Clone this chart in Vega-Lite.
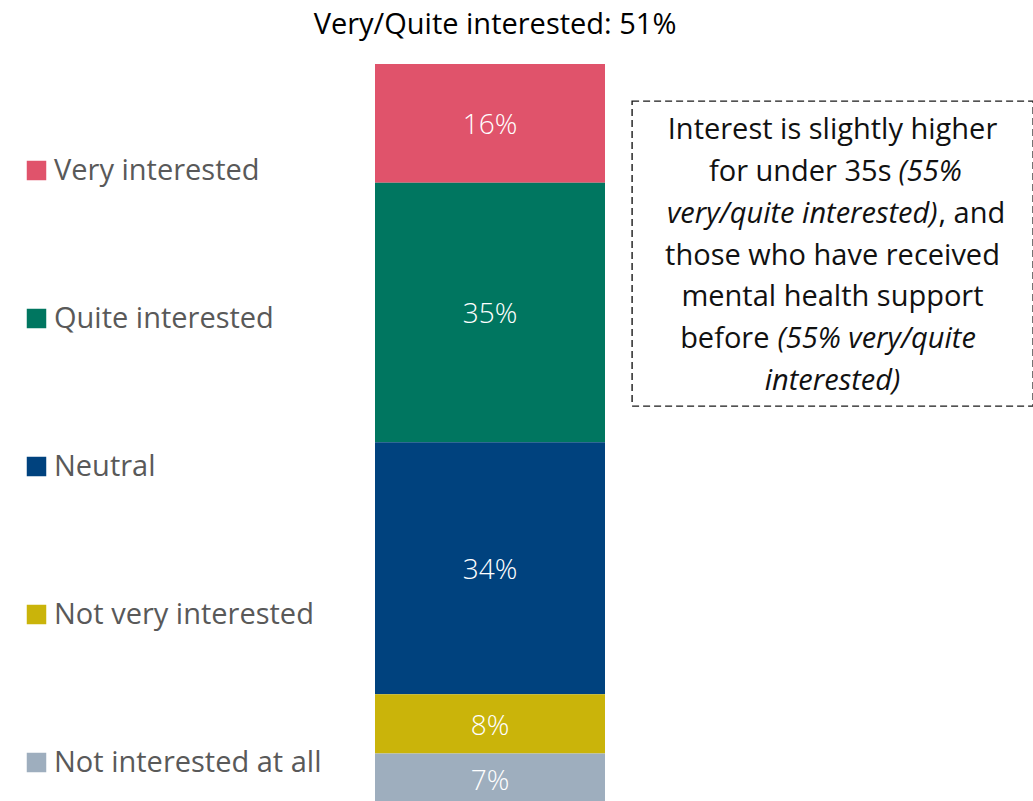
{
  "$schema": "https://vega.github.io/schema/vega-lite/v6.json",
  "background": "white",
  "padding": {"left": 22, "top": 11, "right": 0, "bottom": 0},
  "title": {"text": "Very/Quite interested: 51%", "anchor": "middle", "frame": "group", "dx": 120, "fontSize": 29, "font": "Open Sans", "fontWeight": "normal", "color": "#000000", "offset": 24},
  "config": {"font": "Open Sans", "view": {"stroke": null}},
  "spacing": 26,
  "hconcat": [
    {
      "width": 230,
      "height": 737,
      "data": {"values": [
        {"response": "Very interested", "share": 0.16, "score": 5},
        {"response": "Quite interested", "share": 0.35, "score": 4},
        {"response": "Neutral", "share": 0.34, "score": 3},
        {"response": "Not very interested", "share": 0.08, "score": 2},
        {"response": "Not interested at all", "share": 0.07, "score": 1}
      ]},
      "encoding": {
        "x": {"datum": "Interest", "type": "nominal", "axis": null, "scale": {"paddingInner": 0, "paddingOuter": 0}},
        "y": {"field": "share", "type": "quantitative", "stack": "zero", "axis": null, "scale": {"domain": [0.006, 1], "nice": false, "zero": false}},
        "order": {"field": "score", "type": "quantitative", "sort": "ascending"}
      },
      "layer": [
        {
          "mark": {"type": "bar", "clip": true, "width": {"band": 1}},
          "encoding": {
            "color": {
              "field": "response", "type": "nominal",
              "scale": {
                "domain": ["Very interested", "Quite interested", "Neutral", "Not very interested", "Not interested at all"],
                "range": ["#E0536B", "#007660", "#00427E", "#CAB40A", "#9EAEBE"]
              },
              "legend": {
                "title": null, "orient": "none", "legendX": -353, "legendY": 92, "padding": 0,
                "symbolType": "square", "symbolSize": 380, "symbolStrokeWidth": 0, "symbolOpacity": 1,
                "labelFontSize": 29, "labelColor": "#595959", "labelFont": "Open Sans", "labelOffset": 3,
                "rowPadding": 118, "labelLimit": 400
              }
            }
          }
        },
        {
          "mark": {"type": "text", "color": "white", "fontSize": 28, "fontWeight": 300, "baseline": "middle", "dy": 3, "clip": true},
          "encoding": {
            "y": {"field": "share", "type": "quantitative", "stack": "zero", "bandPosition": 0.5},
            "text": {"field": "share", "type": "quantitative", "format": ".0%"}
          }
        }
      ]
    },
    {
      "spacing": 0,
      "vconcat": [
        {
          "width": 401,
          "height": 36,
          "data": {"values": [{"gap": ""}]},
          "mark": {"type": "text", "opacity": 0},
          "encoding": {"text": {"field": "gap"}}
        },
        {
          "width": 401,
          "height": 305,
          "view": {"stroke": "#1a1a1a", "strokeDash": [7, 4], "strokeWidth": 1.4},
          "data": {"values": [
            {"line": 1, "part": "whole", "emphasis": false, "text": "Interest is slightly higher"},
            {"line": 2, "part": "left", "emphasis": false, "text": "for under 35s"},
            {"line": 2, "part": "right", "emphasis": true, "text": "(55%"},
            {"line": 3, "part": "left", "emphasis": true, "text": "very/quite interested)"},
            {"line": 3, "part": "right", "emphasis": false, "text": ", and"},
            {"line": 4, "part": "whole", "emphasis": false, "text": "those who have received"},
            {"line": 5, "part": "whole", "emphasis": false, "text": "mental health support"},
            {"line": 6, "part": "left", "emphasis": false, "text": "before"},
            {"line": 6, "part": "right", "emphasis": true, "text": "(55% very/quite"},
            {"line": 7, "part": "whole", "emphasis": true, "text": "interested)"}
          ]},
          "encoding": {
            "y": {"field": "line", "type": "ordinal", "axis": null, "scale": {"type": "point", "padding": 0.65}},
            "text": {"field": "text"}
          },
          "layer": [
            {"transform": [{"filter": "datum.part == 'whole' && !datum.emphasis"}],
             "mark": {"type": "text", "fontSize": 29, "color": "#111111", "align": "center", "baseline": "middle", "dy": 2}},
            {"transform": [{"filter": "datum.part == 'whole' && datum.emphasis"}],
             "mark": {"type": "text", "fontSize": 29, "color": "#111111", "align": "center", "baseline": "middle", "dy": 2, "fontStyle": "italic"}},
            {"transform": [{"filter": "datum.line == 2 && datum.part == 'left'"}],
             "mark": {"type": "text", "fontSize": 29, "color": "#111111", "align": "right", "baseline": "middle", "dy": 2, "dx": 59}},
            {"transform": [{"filter": "datum.line == 2 && datum.part == 'right'"}],
             "mark": {"type": "text", "fontSize": 29, "color": "#111111", "align": "left", "baseline": "middle", "dy": 2, "dx": 66, "fontStyle": "italic"}},
            {"transform": [{"filter": "datum.line == 3 && datum.part == 'left'"}],
             "mark": {"type": "text", "fontSize": 29, "color": "#111111", "align": "right", "baseline": "middle", "dy": 2, "dx": 105, "fontStyle": "italic"}},
            {"transform": [{"filter": "datum.line == 3 && datum.part == 'right'"}],
             "mark": {"type": "text", "fontSize": 29, "color": "#111111", "align": "left", "baseline": "middle", "dy": 2, "dx": 106}},
            {"transform": [{"filter": "datum.line == 6 && datum.part == 'left'"}],
             "mark": {"type": "text", "fontSize": 29, "color": "#111111", "align": "right", "baseline": "middle", "dy": 2, "dx": -63}},
            {"transform": [{"filter": "datum.line == 6 && datum.part == 'right'"}],
             "mark": {"type": "text", "fontSize": 29, "color": "#111111", "align": "left", "baseline": "middle", "dy": 2, "dx": -55, "fontStyle": "italic"}}
          ]
        }
      ]
    }
  ]
}
